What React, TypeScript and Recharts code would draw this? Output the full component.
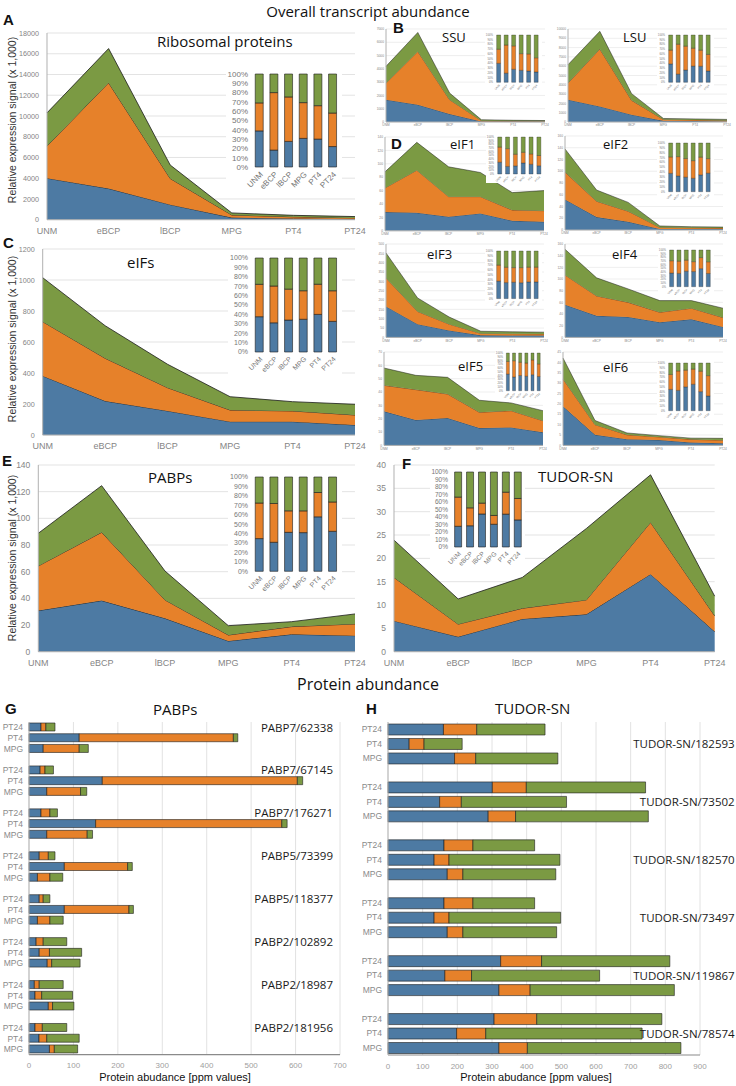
import React from 'react';
import { AreaChart, Area, BarChart, Bar, XAxis, YAxis, CartesianGrid, LabelList } from 'recharts';

const BLUE = '#4d7aa3';
const ORANGE = '#e6812a';
const GREEN = '#7b9a43';
const EDGE = '#1c1c1c';
const SANS = '"Liberation Sans", Arial, sans-serif';
const HEAD = '"Open Sans", "Noto Sans", sans-serif';

// x categories of the transcript panels
const stages = ['UNM', 'eBCP', 'lBCP', 'MPG', 'PT4', 'PT24'];

// A - ribosomal proteins
const riboBlue = [4000, 3000, 1450, 200, 126, 66];
const riboOrange = [3100, 10200, 2520, 250, 151, 108];
const riboGreen = [3200, 3300, 1300, 200, 143, 126];
const riboTicks = [0, 2000, 4000, 6000, 8000, 10000, 12000, 14000, 16000, 18000];

// B - SSU / LSU
const ssuBlue = [1680, 1300, 600, 43, 31, 24];
const ssuOrange = [1250, 4010, 1080, 60, 47, 33];
const ssuGreen = [1260, 1430, 500, 67, 52, 53];
const ssuTicks = [0, 1000, 2000, 3000, 4000, 5000, 6000, 7000];

const lsuBlue = [2400, 1680, 790, 130, 112, 67];
const lsuOrange = [1790, 6170, 1540, 144, 112, 98];
const lsuGreen = [1970, 1900, 720, 106, 106, 115];
const lsuTicks = [0, 1000, 2000, 3000, 4000, 5000, 6000, 7000, 8000, 9000, 10000];

// D - individual eIFs
const eif1Blue = [28, 27, 21, 26, 15, 13.4];
const eif1Orange = [36, 63.5, 30, 25, 16, 16.6];
const eif1Green = [24, 41.5, 44.5, 36, 26, 30];
const eif1Ticks = [0, 20, 40, 60, 80, 100, 120, 140];

const eif2Blue = [52, 22, 14, 1.9, 1.9, 1.9];
const eif2Orange = [46.6, 27, 18, 2.5, 2, 1.5];
const eif2Green = [39.4, 19, 15, 2.5, 1.6, 1.6];
const eif2Ticks = [0, 20, 40, 60, 80, 100, 120, 140, 160];

const eif3Blue = [166, 71, 37.5, 11, 10.5, 9.8];
const eif3Orange = [152, 68, 33.5, 10.5, 9.3, 8.7];
const eif3Green = [134, 72, 38, 11.5, 10.2, 9.5];
const eif3Ticks = [0, 50, 100, 150, 200, 250, 300, 350, 400, 450, 500];

const eif4Blue = [56, 37, 35, 26, 31, 18];
const eif4Orange = [51, 34, 25, 17, 19, 16];
const eif4Green = [44, 31, 23, 20, 13, 16];
const eif4Ticks = [0, 20, 40, 60, 80, 100, 120, 140, 160];

const eif5Blue = [25.5, 19, 20.5, 13, 13.5, 9.8];
const eif5Orange = [19.5, 22.8, 18, 11.8, 12.5, 8.7];
const eif5Green = [13, 10.7, 12.5, 9, 5.8, 7.5];
const eif5Ticks = [0, 10, 20, 30, 40, 50, 60, 70];

const eif6Blue = [18.8, 5.1, 3, 2.6, 1.4, 1.05];
const eif6Orange = [13.2, 4.9, 2.1, 1.5, 1.5, 1.45];
const eif6Green = [10.1, 2, 0.9, 0.6, 0.6, 0.9];
const eif6Ticks = [0, 5, 10, 15, 20, 25, 30, 35, 40, 45];

// C - all eIFs
const eifsBlue = [381, 219, 155, 86, 86, 64.5];
const eifsOrange = [350, 276, 150, 75, 69, 64.5];
const eifsGreen = [284, 210, 151, 86, 60, 69];
const eifsTicks = [0, 200, 400, 600, 800, 1000, 1200];

// E - PABPs
const pabpBlue = [30.8, 38.3, 25, 8, 13, 12];
const pabpOrange = [33.5, 51.2, 13.8, 4.5, 5.8, 8.8];
const pabpGreen = [24.5, 35, 21.7, 7, 3.7, 7.5];
const pabpTicks = [0, 20, 40, 60, 80, 100, 120, 140];

// F - TUDOR-SN
const tudorBlue = [6.6, 3.2, 7, 8, 16.6, 4.3];
const tudorOrange = [9.3, 2.7, 2.3, 3.1, 11.1, 3.4];
const tudorGreen = [8, 5.4, 6.6, 15.3, 10.2, 4.2];
const tudorTicks = [0, 5, 10, 15, 20, 25, 30, 35, 40];

const shareTicks = [0, 0.1, 0.2, 0.3, 0.4, 0.5, 0.6, 0.7, 0.8, 0.9, 1];

// G / H - protein abundance, three conditions per protein
const conds = ['PT24', 'PT4', 'MPG'];

const pabpProteins = ['PABP7/62338', 'PABP7/67145', 'PABP7/176271', 'PABP5/73399', 'PABP5/118377', 'PABP2/102892', 'PABP2/18987', 'PABP2/181956'];
const gBlue = [27, 113, 32, 25, 165, 40, 27, 150, 40, 23, 79.5, 19, 23, 79.5, 19, 16, 23, 41, 12, 13.5, 43.5, 13.5, 22.5, 46];
const gOrange = [11, 347, 81, 11, 439, 76, 20, 419, 91, 20.5, 142.5, 28, 9, 145.5, 28, 16, 23, 10, 11, 15, 9.5, 16.5, 17.5, 11];
const gGreen = [20.5, 10, 20.5, 19, 12, 14, 17, 12, 12, 15, 10.5, 29, 15, 10, 30, 53, 72.5, 64, 54, 69.5, 48, 55, 73, 52.5];
const gTicks = [0, 100, 200, 300, 400, 500, 600, 700];

const tudorProteins = ['TUDOR-SN/182593', 'TUDOR-SN/73502', 'TUDOR-SN/182570', 'TUDOR-SN/73497', 'TUDOR-SN/119867', 'TUDOR-SN/78574'];
const hBlue = [160, 61, 192, 301, 149, 289, 161.5, 133, 171, 161.5, 133, 171, 325, 164, 320, 306, 198, 320];
const hOrange = [96, 43, 61, 98, 62.5, 79, 83.5, 43, 45, 83.5, 43, 45, 118, 77, 90, 123, 84, 82];
const hGreen = [197, 110, 237, 344, 303.5, 383, 178, 320, 268, 178, 322, 270.5, 370, 369.5, 416, 361, 451, 443];
const hTicks = [0, 100, 200, 300, 400, 500, 600, 700, 800, 900];

type Box = [number, number, number, number];
const FILLS: Record<string, string> = { blue: BLUE, orange: ORANGE, green: GREEN };
const LAYERS = ['blue', 'orange', 'green'];

const toRows = (b: number[], o: number[], g: number[]) =>
  stages.map((cat, i) => ({ cat, blue: b[i], orange: o[i], green: g[i] }));

const proteinRows = (names: string[], b: number[], o: number[], g: number[], labelAt: number) => {
  const rows: any[] = [];
  names.forEach((name, gi) => {
    if (gi > 0) rows.push({ key: `gap${gi}`, blue: 0, orange: 0, green: 0, name: '' });
    conds.forEach((c, ci) => {
      const i = gi * 3 + ci;
      rows.push({ key: `${name}|${c}`, blue: b[i], orange: o[i], green: g[i], name: ci === labelAt ? name : '' });
    });
  });
  return rows;
};

const pct = (v: number) => `${Math.round(v * 100)}%`;
const condLabel = (v: any) => (String(v).startsWith('gap') ? '' : String(v).split('|')[1]);

function Stack({ rows, plot, ticks, yw, xh, yFont, xFont, small }: {
  rows: any[]; plot: Box; ticks: number[]; yw: number; xh: number; yFont: number; xFont: number; small?: boolean;
}) {
  const [x0, y0, x1, y1] = plot;
  const mt = small ? 3 : 6;
  const mr = small ? 8 : 14;
  const tickSize = small ? 1 : 6;
  return (
    <div style={{ position: 'absolute', left: x0 - yw, top: y0 - mt }}>
      <AreaChart width={x1 - x0 + yw + mr} height={y1 - y0 + mt + xh} data={rows}
        margin={{ top: mt, right: mr, left: 0, bottom: 0 }}>
        <CartesianGrid vertical={false} stroke="#e3e3e3" strokeWidth={small ? 0.6 : 1} />
        <XAxis dataKey="cat" interval={0} height={xh} tickLine={false} tickSize={tickSize} tickMargin={small ? 1 : 2}
          axisLine={{ stroke: '#b0b0b0' }} tick={{ fontSize: xFont, fill: '#858585', fontFamily: SANS }} />
        <YAxis width={yw} domain={[0, ticks[ticks.length - 1]]} ticks={ticks} interval={0} tickLine={false}
          tickSize={tickSize} tickMargin={small ? 1 : 2} axisLine={{ stroke: '#b0b0b0' }}
          tick={{ fontSize: yFont, fill: '#858585', fontFamily: SANS }} />
        {LAYERS.map((k) => (
          <Area key={k} type="linear" dataKey={k} stackId="a" fill={FILLS[k]} fillOpacity={1} stroke={EDGE}
            strokeWidth={small ? 0.5 : 0.8} isAnimationActive={false} dot={false} activeDot={false} />
        ))}
      </AreaChart>
    </div>
  );
}

function Share({ rows, box, font, yw, xh, small }: {
  rows: any[]; box: Box; font: number; yw: number; xh: number; small?: boolean;
}) {
  const [x0, y0, x1, y1] = box;
  const mt = Math.ceil(font / 2) + 1;
  const mr = 2;
  return (
    <div style={{ position: 'absolute', left: x0 - yw, top: y0 - mt, background: '#fff' }}>
      <BarChart width={x1 - x0 + yw + mr} height={y1 - y0 + mt + xh} data={rows} stackOffset="expand"
        margin={{ top: mt, right: mr, left: 0, bottom: 0 }} barCategoryGap="22%">
        <XAxis dataKey="cat" interval={0} height={xh} angle={-45} tickLine={false} axisLine={false}
          tickSize={small ? 1 : 3} tickMargin={1}
          tick={{ fontSize: font, fill: '#777', textAnchor: 'end', fontFamily: SANS }} />
        <YAxis width={yw} domain={[0, 1]} ticks={shareTicks} interval={0} tickFormatter={pct} tickLine={false}
          axisLine={false} tickSize={small ? 1 : 3} tickMargin={1}
          tick={{ fontSize: font, fill: '#777', fontFamily: SANS }} />
        {LAYERS.map((k) => (
          <Bar key={k} dataKey={k} stackId="s" fill={FILLS[k]} stroke={EDGE} strokeWidth={small ? 0.3 : 0.6}
            isAnimationActive={false} />
        ))}
      </BarChart>
    </div>
  );
}

function Abundance({ rows, plot, yw, mr, ticks, barSize, labelX }: {
  rows: any[]; plot: Box; yw: number; mr: number; ticks: number[]; barSize: number; labelX: number;
}) {
  const [x0, y0, x1, y1] = plot;
  const mt = 2;
  const xh = 16;
  const left = x0 - yw;
  const renderName = (props: any) => {
    if (!props.value) return null;
    const vb = props.viewBox || props;
    return (
      <text x={labelX} y={vb.y + vb.height / 2} textAnchor="end" dominantBaseline="central"
        fontSize={11.5} fontFamily={HEAD} fill="#1a1a1a">{props.value}</text>
    );
  };
  return (
    <div style={{ position: 'absolute', left, top: y0 - mt }}>
      <BarChart layout="vertical" width={x1 - left + mr} height={y1 - y0 + mt + xh} data={rows}
        margin={{ top: mt, right: mr, left: 0, bottom: 0 }} barSize={barSize}>
        <CartesianGrid horizontal={false} stroke="#e2e2e2" />
        <XAxis type="number" domain={[0, ticks[ticks.length - 1]]} ticks={ticks} interval={0} height={xh}
          tickLine={false} axisLine={{ stroke: '#8a8a8a', strokeWidth: 1.2 }}
          tick={{ fontSize: 8, fill: '#a0a0a0', fontFamily: SANS }} />
        <YAxis type="category" dataKey="key" width={yw} interval={0} tickLine={false} tickSize={4}
          axisLine={{ stroke: '#b5b5b5' }} tickFormatter={condLabel}
          tick={{ fontSize: 8.5, fill: '#8a8a8a', fontFamily: SANS }} />
        {LAYERS.map((k) => (
          <Bar key={k} dataKey={k} stackId="p" fill={FILLS[k]} stroke={EDGE} strokeWidth={0.6} isAnimationActive={false}>
            {k === 'green' && <LabelList dataKey="name" content={renderName} />}
          </Bar>
        ))}
      </BarChart>
    </div>
  );
}

const Txt = ({ x, y, size, children, bold, center, font }: any) => (
  <div style={{
    position: 'absolute', left: x, top: y, fontSize: size, lineHeight: 1.15, whiteSpace: 'nowrap',
    fontWeight: bold ? 700 : 400, fontFamily: font || HEAD, color: '#111',
    transform: center ? 'translateX(-50%)' : undefined,
  }}>{children}</div>
);

const YTitle = ({ cy }: { cy: number }) => (
  <div style={{
    position: 'absolute', left: 12, top: cy, fontSize: 10.5, fontFamily: SANS, color: '#333', whiteSpace: 'nowrap',
    lineHeight: 1, transform: 'translate(-50%, -50%) rotate(-90deg)',
  }}>Relative expression signal (x 1,000)</div>
);

const Letter = ({ x, y, c }: any) => <Txt x={x} y={y} size={15} bold font={SANS}>{c}</Txt>;

export default function App() {
  const ribo = toRows(riboBlue, riboOrange, riboGreen);
  const ssu = toRows(ssuBlue, ssuOrange, ssuGreen);
  const lsu = toRows(lsuBlue, lsuOrange, lsuGreen);
  const eif1 = toRows(eif1Blue, eif1Orange, eif1Green);
  const eif2 = toRows(eif2Blue, eif2Orange, eif2Green);
  const eif3 = toRows(eif3Blue, eif3Orange, eif3Green);
  const eif4 = toRows(eif4Blue, eif4Orange, eif4Green);
  const eif5 = toRows(eif5Blue, eif5Orange, eif5Green);
  const eif6 = toRows(eif6Blue, eif6Orange, eif6Green);
  const eifs = toRows(eifsBlue, eifsOrange, eifsGreen);
  const pabp = toRows(pabpBlue, pabpOrange, pabpGreen);
  const tudor = toRows(tudorBlue, tudorOrange, tudorGreen);
  const gRows = proteinRows(pabpProteins, gBlue, gOrange, gGreen, 0);
  const hRows = proteinRows(tudorProteins, hBlue, hOrange, hGreen, 1);

  const small = { yw: 14, xh: 8, yFont: 3.3, xFont: 3.2, small: true };
  const tiny = { font: 2.8, yw: 10, xh: 9, small: true };

  return (
    <div style={{ position: 'absolute', left: 0, top: 0, width: 736, height: 1086, background: '#fff', overflow: 'hidden' }}>
      <Txt x={368} y={3} size={15} center>Overall transcript abundance</Txt>

      {/* A */}
      <Stack rows={ribo} plot={[47, 33.3, 355, 220]} ticks={riboTicks} yw={47} xh={18} yFont={7.2} xFont={9} />
      <Share rows={ribo} box={[252, 74, 340, 167]} font={8} yw={26} xh={28} />
      <YTitle cy={120} />
      <Txt x={157} y={33} size={15}>Ribosomal proteins</Txt>
      <Letter x={3} y={11} c="A" />

      {/* B */}
      <Stack rows={ssu} plot={[386, 29.3, 545, 122.3]} ticks={ssuTicks} {...small} />
      <Share rows={ssu} box={[495, 35, 540, 82.3]} {...tiny} />
      <Txt x={442} y={30} size={13}>SSU</Txt>
      <Stack rows={lsu} plot={[568, 29.3, 727, 122.3]} ticks={lsuTicks} {...small} />
      <Share rows={lsu} box={[667, 35, 712, 82.3]} {...tiny} />
      <Txt x={623} y={30} size={13}>LSU</Txt>
      <Letter x={393} y={19} c="B" />

      {/* D */}
      <Stack rows={eif1} plot={[385, 136.9, 544, 230.7]} ticks={eif1Ticks} {...small} />
      <Share rows={eif1} box={[496, 137, 543, 174]} {...tiny} />
      <Txt x={450} y={137} size={13}>eIF1</Txt>
      <Stack rows={eif2} plot={[565, 136.4, 723, 230.4]} ticks={eif2Ticks} {...small} />
      <Share rows={eif2} box={[667, 143, 712, 191.7]} {...tiny} />
      <Txt x={603} y={137} size={13}>eIF2</Txt>
      <Letter x={391} y={135} c="D" />

      <Stack rows={eif3} plot={[386, 244.3, 544, 337.7]} ticks={eif3Ticks} {...small} />
      <Share rows={eif3} box={[495, 250.7, 540, 298.3]} {...tiny} />
      <Txt x={427} y={247} size={13}>eIF3</Txt>
      <Stack rows={eif4} plot={[565, 244.3, 723, 337.7]} ticks={eif4Ticks} {...small} />
      <Share rows={eif4} box={[668, 250, 712, 286.7]} {...tiny} />
      <Txt x={612} y={247} size={13}>eIF4</Txt>

      <Stack rows={eif5} plot={[384, 352.3, 543, 445.7]} ticks={eif5Ticks} {...small} />
      <Share rows={eif5} box={[505, 353, 542, 390.7]} {...tiny} />
      <Txt x={458} y={359} size={13}>eIF5</Txt>
      <Stack rows={eif6} plot={[563, 352.3, 723, 445.7]} ticks={eif6Ticks} {...small} />
      <Share rows={eif6} box={[667, 363.3, 712, 411]} {...tiny} />
      <Txt x={603} y={360} size={13}>eIF6</Txt>

      {/* C */}
      <Stack rows={eifs} plot={[42.7, 249, 355, 435]} ticks={eifsTicks} yw={42.7} xh={18} yFont={7.2} xFont={9} />
      <Share rows={eifs} box={[252, 258, 340, 352]} font={7} yw={24} xh={26} />
      <YTitle cy={339} />
      <Txt x={127} y={254} size={15}>eIFs</Txt>
      <Letter x={3} y={234} c="C" />

      {/* E */}
      <Stack rows={pabp} plot={[38.3, 465, 355, 651.7]} ticks={pabpTicks} yw={38.3} xh={18} yFont={8.5} xFont={9} />
      <Share rows={pabp} box={[252, 476.7, 340, 571]} font={7} yw={24} xh={26} />
      <YTitle cy={558} />
      <Txt x={148} y={469} size={15}>PABPs</Txt>
      <Letter x={2} y={452} c="E" />

      {/* F */}
      <Stack rows={tudor} plot={[394.3, 465, 715, 651.7]} ticks={tudorTicks} yw={22} xh={18} yFont={8.5} xFont={9} />
      <Share rows={tudor} box={[451.7, 471.7, 523.3, 546.7]} font={6.5} yw={22} xh={24} />
      <Txt x={538} y={468} size={15}>TUDOR-SN</Txt>
      <Letter x={402} y={455} c="F" />

      {/* G / H */}
      <Txt x={368} y={675} size={16} center>Protein abundance</Txt>
      <Abundance rows={gRows} plot={[29, 722.3, 340, 1055]} yw={29} mr={10} ticks={gTicks} barSize={8} labelX={333} />
      <Txt x={153} y={701} size={15}>PABPs</Txt>
      <Txt x={175} y={1071} size={11} font={SANS} center>Protein abudance [ppm values]</Txt>
      <Letter x={5} y={700} c="G" />

      <Abundance rows={hRows} plot={[388.3, 722, 700.3, 1055]} yw={26} mr={36} ticks={hTicks} barSize={11} labelX={372.7} />
      <Txt x={495} y={700} size={15}>TUDOR-SN</Txt>
      <Txt x={536} y={1071} size={11} font={SANS} center>Protein abudance [ppm values]</Txt>
      <Letter x={366} y={700} c="H" />
    </div>
  );
}
